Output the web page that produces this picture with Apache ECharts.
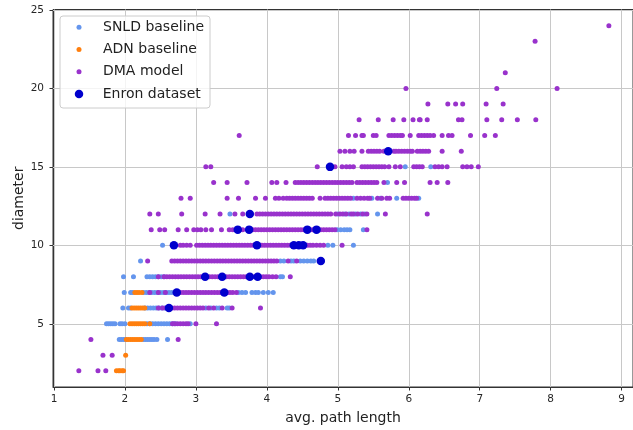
<!DOCTYPE html>
<html>
<head>
<meta charset="utf-8">
<script src="https://cdn.jsdelivr.net/npm/echarts@6/dist/echarts.min.js"></script>
<style>
html, body { margin: 0; padding: 0; background: #fff; }
#chart { width: 633px; height: 430px; }
</style>
</head>
<body>
<div id="chart"></div>
<script>
// avg. path length values, grouped by diameter row
var snld = {
	4: [1.92, 1.95, 1.98, 2.01, 2.26, 2.29, 2.32, 2.35, 2.38, 2.41, 2.45, 2.60],
	5: [1.74, 1.77, 1.80, 1.83, 1.86, 1.93, 1.96, 2.00, 2.31, 2.35, 2.39, 2.43, 2.47, 2.51, 2.55, 2.59, 2.63, 2.67, 2.71, 2.92],
	6: [1.97, 2.05, 2.08, 2.28, 2.32, 2.36, 2.40, 2.44, 2.48, 2.52, 2.56, 3.14, 3.21, 3.29, 3.33, 3.44, 3.47],
	7: [1.99, 2.08, 2.11, 2.26, 2.30, 2.34, 2.38, 2.42, 2.46, 2.50, 2.54, 2.58, 2.62, 2.66, 3.60, 3.65, 3.70, 3.79, 3.84, 3.88, 3.95, 4.02, 4.09],
	8: [1.98, 2.12, 2.31, 2.35, 2.39, 2.43, 2.47, 2.51, 2.55, 4.19, 4.22],
	9: [2.22, 4.19, 4.24, 4.34, 4.38, 4.47, 4.52, 4.57, 4.62, 4.66],
	10: [2.53, 4.86, 4.93, 5.22],
	11: [4.99, 5.04, 5.09, 5.13, 5.17, 5.36],
	12: [3.48, 5.00, 5.10, 5.16, 5.25, 5.32, 5.38, 5.56],
	13: [5.22, 5.48, 5.60, 5.83, 6.14],
	14: [5.70],
	15: [5.95, 6.31]
};
var adn = {
	2: [1.88, 1.91, 1.93, 1.96, 1.98],
	3: [2.01],
	4: [2.02, 2.05, 2.08, 2.11, 2.14, 2.17, 2.20, 2.23],
	5: [2.07, 2.10, 2.13, 2.16, 2.19, 2.22, 2.25, 2.28, 2.35],
	6: [2.10, 2.13, 2.16, 2.19, 2.22, 2.25, 2.28],
	7: [2.14, 2.17, 2.20, 2.24]
};
var dma = {
	2: [1.35, 1.62, 1.73],
	3: [1.69, 1.82],
	4: [1.52, 2.75],
	5: [2.67, 2.70, 2.74, 2.78, 2.82, 2.86, 2.89, 3.00, 3.29],
	6: [2.47, 2.53, 2.58, 2.66, 2.70, 2.74, 2.78, 2.82, 2.86, 2.90, 2.94, 2.98, 3.02, 3.06, 3.10, 3.18, 3.25, 3.37, 3.51, 3.91],
	7: [2.35, 2.47, 2.57, 2.78, 2.82, 2.86, 2.90, 2.94, 2.98, 3.02, 3.06, 3.10, 3.14, 3.18, 3.22, 3.26, 3.30, 3.34, 3.38, 3.44, 3.48, 3.52, 3.57],
	8: [2.47, 2.55, 2.59, 2.63, 2.67, 2.71, 2.75, 2.79, 2.83, 2.87, 2.91, 2.95, 2.99, 3.03, 3.07, 3.11, 3.15, 3.19, 3.23, 3.27, 3.31, 3.35, 3.39, 3.43, 3.47, 3.51, 3.55, 3.59, 3.63, 3.67, 3.71, 3.75, 3.79, 3.83, 3.87, 3.91, 3.95, 3.99, 4.03, 4.08, 4.13, 4.33],
	9: [2.32, 2.66, 2.70, 2.74, 2.78, 2.82, 2.86, 2.90, 2.94, 2.98, 3.02, 3.06, 3.10, 3.14, 3.18, 3.22, 3.26, 3.30, 3.34, 3.38, 3.42, 3.46, 3.50, 3.54, 3.58, 3.62, 3.66, 3.70, 3.74, 3.78, 3.82, 3.86, 3.90, 3.94, 3.98, 4.02, 4.06, 4.10, 4.14, 4.30, 4.42],
	10: [2.78, 2.82, 2.87, 2.92, 3.01, 3.05, 3.09, 3.13, 3.17, 3.21, 3.25, 3.29, 3.33, 3.37, 3.41, 3.45, 3.49, 3.53, 3.57, 3.61, 3.65, 3.69, 3.73, 3.77, 3.81, 3.85, 3.89, 3.93, 3.97, 4.01, 4.05, 4.09, 4.13, 4.17, 4.21, 4.25, 4.29, 4.33, 4.37, 4.41, 4.45, 4.49, 4.53, 4.57, 4.61, 4.65, 4.70, 4.75, 4.80, 5.06],
	11: [2.37, 2.49, 2.56, 2.75, 2.87, 2.97, 3.02, 3.07, 3.14, 3.22, 3.36, 3.47, 3.52, 3.66, 3.80, 3.84, 3.88, 3.92, 3.96, 4.00, 4.04, 4.08, 4.12, 4.16, 4.20, 4.24, 4.28, 4.32, 4.36, 4.40, 4.44, 4.48, 4.52, 4.56, 4.60, 4.64, 4.68, 4.72, 4.76, 4.80, 4.84, 4.88, 4.92, 4.96, 5.41],
	12: [2.35, 2.47, 2.80, 3.13, 3.34, 3.55, 3.66, 3.86, 3.90, 3.94, 3.98, 4.02, 4.06, 4.10, 4.14, 4.18, 4.22, 4.26, 4.30, 4.34, 4.38, 4.42, 4.46, 4.50, 4.54, 4.58, 4.62, 4.66, 4.70, 4.74, 4.78, 4.82, 4.86, 4.90, 4.97, 5.03, 5.07, 5.12, 5.19, 5.22, 5.28, 5.35, 5.41, 5.67, 6.26],
	13: [2.79, 2.92, 3.44, 3.60, 3.84, 3.98, 4.12, 4.17, 4.23, 4.28, 4.32, 4.36, 4.40, 4.44, 4.48, 4.52, 4.56, 4.60, 4.64, 4.75, 4.82, 4.86, 4.90, 4.94, 4.98, 5.02, 5.06, 5.10, 5.14, 5.18, 5.27, 5.32, 5.37, 5.42, 5.45, 5.56, 5.62, 5.69, 5.73, 5.92, 5.96, 6.00, 6.04, 6.08, 6.11],
	14: [3.25, 3.44, 3.72, 4.07, 4.14, 4.27, 4.40, 4.44, 4.48, 4.52, 4.56, 4.60, 4.64, 4.68, 4.72, 4.76, 4.80, 4.84, 4.88, 4.92, 4.96, 5.00, 5.04, 5.08, 5.12, 5.16, 5.20, 5.27, 5.31, 5.35, 5.39, 5.43, 5.47, 5.51, 5.55, 5.65, 5.83, 5.94, 6.30, 6.40, 6.55],
	15: [3.14, 3.21, 4.71, 4.96, 5.06, 5.12, 5.17, 5.22, 5.34, 5.38, 5.42, 5.46, 5.50, 5.54, 5.58, 5.62, 5.66, 5.72, 5.81, 5.88, 6.07, 6.11, 6.15, 6.19, 6.37, 6.42, 6.47, 6.54, 6.76, 6.82, 6.88, 6.98],
	16: [5.03, 5.10, 5.17, 5.23, 5.34, 5.43, 5.47, 5.51, 5.55, 5.59, 5.65, 5.79, 5.82, 5.86, 5.90, 5.94, 5.98, 6.02, 6.05, 6.12, 6.16, 6.20, 6.24, 6.28, 6.47, 6.74],
	17: [3.61, 5.15, 5.25, 5.34, 5.36, 5.50, 5.54, 5.72, 5.76, 5.80, 5.84, 5.88, 5.91, 6.02, 6.14, 6.18, 6.22, 6.26, 6.30, 6.35, 6.47, 6.56, 6.61, 6.87, 7.07, 7.22],
	18: [5.30, 5.57, 5.78, 5.93, 6.06, 6.15, 6.16, 6.26, 6.70, 6.75, 7.10, 7.31, 7.53, 7.79],
	19: [6.27, 6.55, 6.66, 6.76, 7.09, 7.33],
	20: [5.96, 7.24, 8.09],
	21: [7.36],
	23: [7.78],
	24: [8.82]
};
var enron = {
	6: [2.62],
	7: [2.73, 3.40],
	8: [3.13, 3.37, 3.76, 3.87],
	9: [4.76],
	10: [2.69, 3.86, 4.38, 4.45, 4.51],
	11: [3.59, 3.75, 4.57, 4.70],
	12: [3.76],
	15: [4.89],
	16: [5.71]
};
var xTicks = [1, 2, 3, 4, 5, 6, 7, 8, 9];
var yTicks = [5, 10, 15, 20, 25];

var FONT = 'DejaVu Sans';

function toPoints(rows) {
	var out = [];
	for (var d in rows) {
		rows[d].forEach(function (x) { out.push([x, +d]); });
	}
	return out;
}

var gridLines = xTicks.map(function (v) { return { xAxis: v }; })
	.concat(yTicks.map(function (v) { return { yAxis: v }; }));

var myChart = echarts.init(document.getElementById('chart'));
var option = {
	animation: false,
	backgroundColor: '#fff',
	grid: {
		left: 53, right: 0, top: 9.5, bottom: 43,
		show: true, borderColor: '#333', borderWidth: 1,
		outerBoundsMode: 'none'
	},
	xAxis: {
		type: 'value', min: 0.986, max: 9.16,
		name: 'avg. path length', nameLocation: 'middle', nameGap: 24, nameMoveOverlap: false,
		nameTextStyle: { fontSize: 14, color: '#222', fontFamily: FONT },
		splitLine: { show: false },
		axisLine: { show: true, onZero: false, lineStyle: { color: '#333' } },
		axisTick: { show: true, customValues: xTicks, length: 3.5, lineStyle: { color: '#333' } },
		axisLabel: { customValues: xTicks, fontSize: 10.5, color: '#262626', margin: 7, fontFamily: FONT }
	},
	yAxis: {
		type: 'value', min: 0.97, max: 25.03,
		name: 'diameter', nameLocation: 'middle', nameGap: 27, nameMoveOverlap: false,
		nameTextStyle: { fontSize: 14, color: '#222', fontFamily: FONT },
		splitLine: { show: false },
		axisLine: { show: true, onZero: false, lineStyle: { color: '#333' } },
		axisTick: { show: true, customValues: yTicks, length: 3.5, lineStyle: { color: '#333' } },
		axisLabel: { customValues: yTicks, fontSize: 10.5, color: '#262626', margin: 9, fontFamily: FONT }
	},
	legend: [{
		data: ['SNLD baseline', 'ADN baseline', 'DMA model'],
		orient: 'vertical', left: 76.5, top: 16, padding: 0, itemGap: 0,
		itemWidth: 5, itemHeight: 5, icon: 'circle', selectedMode: false,
		textStyle: { fontSize: 14, lineHeight: 22.3, color: '#222', fontFamily: FONT, padding: [0, 0, 0, 16.5] }
	}, {
		data: ['Enron dataset'],
		orient: 'vertical', left: 74.75, top: 82.85, padding: 0,
		itemWidth: 8.5, itemHeight: 8.5, icon: 'circle', selectedMode: false,
		textStyle: { fontSize: 14, lineHeight: 22.3, color: '#222', fontFamily: FONT, padding: [0, 0, 0, 14.5] }
	}],
	graphic: [{
		type: 'rect', z: 3,
		shape: { x: 60, y: 16, width: 150, height: 92, r: 3 },
		style: { fill: 'rgba(255,255,255,0.8)', stroke: '#cccccc', lineWidth: 1 }
	}],
	series: [{
		// grid lines at the tick values, kept under the points
		type: 'scatter', z: 1, silent: true, data: [],
		markLine: {
			z: 1, silent: true, symbol: 'none', label: { show: false },
			lineStyle: { color: '#c8c8c8', width: 1, type: 'solid' },
			emphasis: { disabled: true },
			data: gridLines
		}
	}, {
		name: 'SNLD baseline', type: 'scatter', symbolSize: 5, z: 2,
		itemStyle: { color: '#6495ED', opacity: 1 },
		data: toPoints(snld)
	}, {
		name: 'ADN baseline', type: 'scatter', symbolSize: 5, z: 2,
		itemStyle: { color: '#ff7f0e', opacity: 1 },
		data: toPoints(adn)
	}, {
		name: 'DMA model', type: 'scatter', symbolSize: 5, z: 2,
		itemStyle: { color: '#9932CC', opacity: 1 },
		data: toPoints(dma)
	}, {
		name: 'Enron dataset', type: 'scatter', symbolSize: 8.5, z: 2,
		itemStyle: { color: '#0000CD', opacity: 1 },
		data: toPoints(enron)
	}]
};
myChart.setOption(option);
</script>
</body>
</html>
